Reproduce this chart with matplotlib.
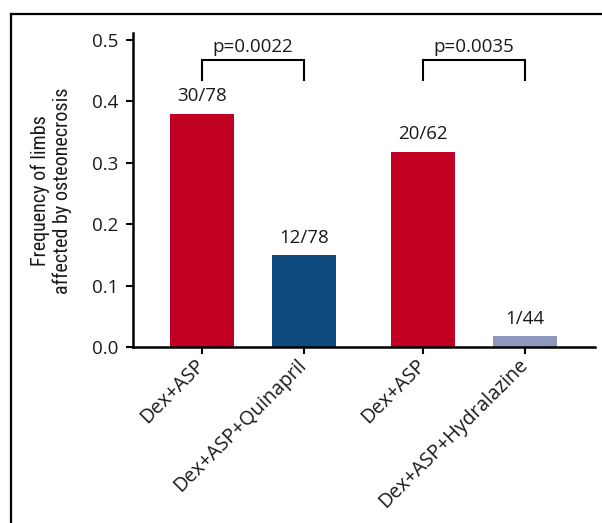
import matplotlib
matplotlib.use("Agg")
import matplotlib.pyplot as plt
from matplotlib.lines import Line2D
from matplotlib import font_manager
import numpy as np

categories = ["Dex+ASP", "Dex+ASP+Quinapril", "Dex+ASP", "Dex+ASP+Hydralazine"]
values = [0.38, 0.15, 0.318, 0.018]
counts = ["30/78", "12/78", "20/62", "1/44"]
colors = ["#C10024", "#0E4A7E", "#C10024", "#8E98BC"]
pvalues = ["p=0.0022", "p=0.0035"]
yticks = [0.0, 0.1, 0.2, 0.3, 0.4, 0.5]

plt.rcParams['font.family'] = ['Open Sans', 'DejaVu Sans']

# choose a condensed family for the y label if one is installed
names = {f.name for f in font_manager.fontManager.ttflist}
cond_family, cond_stretch, cond_size = ['Open Sans'], 'normal', 12.3
for cand, size in [('Liberation Sans Narrow', 15.5), ('Roboto Condensed', 14.5),
                   ('Open Sans Condensed', 14.5)]:
    if cand in names:
        cond_family, cond_size = [cand], size
        break
else:
    if any(f.name == 'DejaVu Sans' and f.stretch == 'condensed'
           for f in font_manager.fontManager.ttflist):
        cond_family, cond_stretch, cond_size = ['DejaVu Sans'], 'condensed', 13.0

W, H = 602, 523
fig = plt.figure(figsize=(W / 100, H / 100), dpi=100)
ax = fig.add_axes([133 / W, 1 - 347 / H, (595 - 133) / W, (347 - 33) / H])

group_gap = 1.167
x = np.array([0, 1, group_gap + 1, group_gap + 2])
ax.bar(x, values, width=0.627, color=colors, zorder=2)

for xi, v, c in zip(x, values, counts):
    ax.annotate(c, (xi, v), xytext=(0, 6), textcoords="offset points",
                ha="center", va="bottom", fontsize=13.5, color="#1a1a1a")

# significance brackets
pairs = [(x[0], x[1]), (x[2], x[3])]
for (a, b), p in zip(pairs, pvalues):
    ax.plot([a, a, b, b], [0.435, 0.467, 0.467, 0.435], color="black", lw=1.5,
            solid_joinstyle="miter", clip_on=False)
    ax.text((a + b) / 2, 0.481, p, ha="center", va="baseline", fontsize=13.5,
            color="#1a1a1a")

ax.set_xlim(-0.676, 3.853)
ax.set_ylim(0, 0.5114)
ax.set_yticks(yticks)
ax.set_yticklabels([f"{t:.1f}" for t in yticks], fontsize=13.5, color="#1a1a1a")
ax.set_xticks(x)
ax.set_xticklabels(categories, rotation=45, ha="right", va="center",
                   rotation_mode="anchor", fontsize=14.2, color="#1a1a1a")

for s in ["top", "right"]:
    ax.spines[s].set_visible(False)
for s in ["left", "bottom"]:
    ax.spines[s].set_linewidth(1.8)
ax.tick_params(axis="both", width=1.5, length=5, direction="out")
ax.tick_params(axis="y", pad=5.5)
ax.tick_params(axis="x", pad=6)

fig.text(51 / W, 1 - 191 / H, "Frequency of limbs\naffected by osteonecrosis",
         rotation=90, ha="center", va="center", multialignment="center",
         fontsize=cond_size, family=cond_family, fontstretch=cond_stretch,
         linespacing=1.15, color="#1a1a1a")

# outer frame (top and left edges visible)
fig.add_artist(Line2D([11 / W, 11 / W], [0, 1 - 14 / H], color="black", lw=1.6,
                      transform=fig.transFigure, solid_capstyle="projecting"))
fig.add_artist(Line2D([11 / W, 1], [1 - 14 / H, 1 - 14 / H], color="black", lw=1.6,
                      transform=fig.transFigure, solid_capstyle="projecting"))

fig.savefig("out.png", dpi=100)
